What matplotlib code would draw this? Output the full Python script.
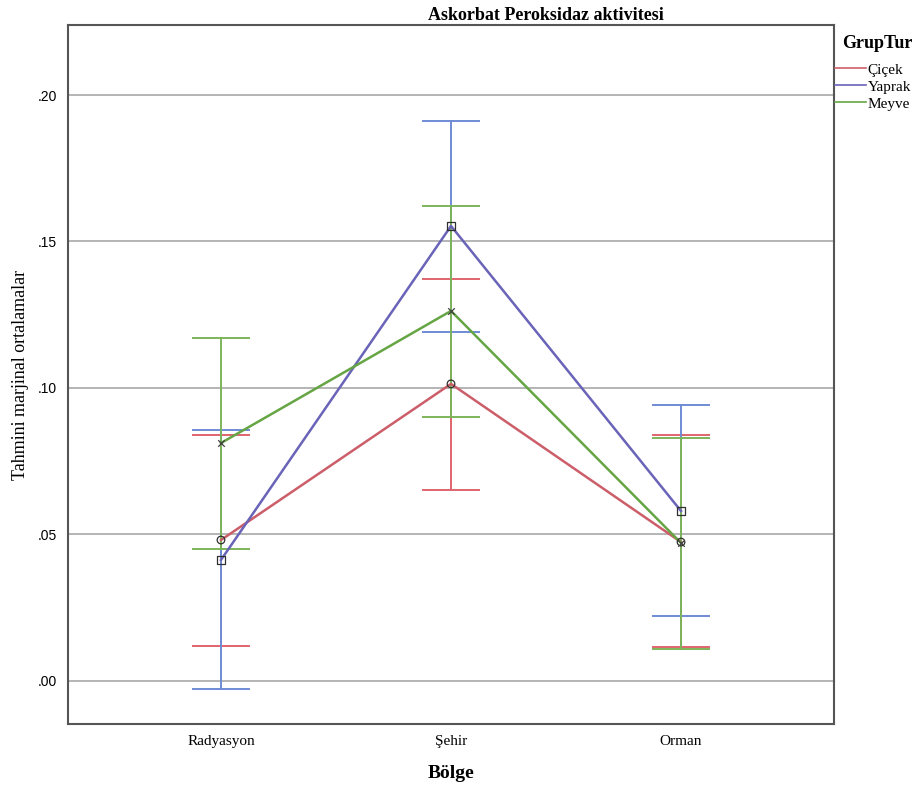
import matplotlib
matplotlib.use("Agg")
import matplotlib.pyplot as plt
import numpy as np

categories = ["Radyasyon", "Şehir", "Orman"]
groups = ["Çiçek", "Yaprak", "Meyve"]
means = {
    "Çiçek":  [0.0481, 0.1014, 0.0474],
    "Yaprak": [0.0413, 0.1553, 0.0580],
    "Meyve":  [0.0812, 0.1263, 0.0471],
}
upper = {
    "Çiçek":  [0.0840, 0.1372, 0.0838],
    "Yaprak": [0.0857, 0.1911, 0.0942],
    "Meyve":  [0.1171, 0.1621, 0.0829],
}
lower = {
    "Çiçek":  [0.0119, 0.0652, 0.0117],
    "Yaprak": [-0.0027, 0.1191, 0.0222],
    "Meyve":  [0.0451, 0.0901, 0.0109],
}
yticks = [0.0, 0.05, 0.10, 0.15, 0.20]
ytick_labels = [".00", ".05", ".10", ".15", ".20"]

line_colors = {"Çiçek": "#cc5e6a", "Yaprak": "#6a64b8", "Meyve": "#66a544"}
err_colors = {"Çiçek": "#e0646e", "Yaprak": "#6f8bd6", "Meyve": "#7cb45a"}
markers = {"Çiçek": "o", "Yaprak": "s", "Meyve": "x"}

serif = ["Liberation Serif", "DejaVu Serif"]

fig = plt.figure(figsize=(9.2, 7.87), dpi=100)
ax = fig.add_axes([68/920, 1-724/787, (834-68)/920, (724-25)/787])

x = np.arange(len(categories))
ax.set_xlim(-0.665, 2.665)
ax.set_ylim(-0.0147, 0.2239)

for yt in yticks:
    ax.axhline(yt, color="#a8a8a8", lw=1.2, zorder=0)

cap = 0.122
for g in groups:
    m = np.array(means[g]); u = np.array(upper[g]); l = np.array(lower[g])
    for xi, ui, li in zip(x, u, l):
        ax.plot([xi, xi], [li, ui], color=err_colors[g], lw=1.4, zorder=2)
        ax.plot([xi-cap, xi+cap], [ui, ui], color=err_colors[g], lw=1.4, zorder=2)
        ax.plot([xi-cap, xi+cap], [li, li], color=err_colors[g], lw=1.4, zorder=2)
    ax.plot(x, m, color=line_colors[g], lw=1.8, zorder=3, label=g)
    if markers[g] == "x":
        ax.scatter(x, m, marker="x", s=22, color="#404040", linewidths=0.9, zorder=4)
    else:
        ax.scatter(x, m, marker=markers[g], s=30, facecolors="none", edgecolors="#303030", linewidths=0.9, zorder=4)

ax.set_xticks(x)
ax.set_xticklabels(categories, fontfamily=serif, fontsize=11)
ax.set_yticks(yticks)
ax.set_yticklabels(ytick_labels, fontfamily=["Liberation Sans", "DejaVu Sans"], fontsize=10)
ax.tick_params(axis="x", length=0, pad=8)
ax.tick_params(axis="y", length=0, pad=8)
for s in ax.spines.values():
    s.set_color("#555555")
    s.set_linewidth(1.5)

ax.set_ylabel("Tahmini marjinal ortalamalar", fontfamily=serif, fontsize=13, labelpad=6)
ax.set_xlabel("Bölge", fontfamily=serif, fontsize=14, fontweight="bold", labelpad=12)
fig.text(546/920, 1-15/787, "Askorbat Peroksidaz aktivitesi", fontfamily=serif, fontsize=13,
         fontweight="bold", ha="center", va="center")

fig.text(842/920, 1-44/787, "GrupTur", fontfamily=serif, fontsize=13,
         fontweight="bold", ha="left", va="center")
handles, labels = ax.get_legend_handles_labels()
leg = fig.legend(handles, labels, loc="upper left",
                 bbox_to_anchor=(835/920, 1-63/787), frameon=False,
                 prop={"family": serif, "size": 11}, handlelength=2.0,
                 handletextpad=0.15, labelspacing=0.22, borderaxespad=0, borderpad=0.0)
for h in leg.legend_handles:
    h.set_linewidth(1.2)

fig.savefig("out.png", dpi=100)
